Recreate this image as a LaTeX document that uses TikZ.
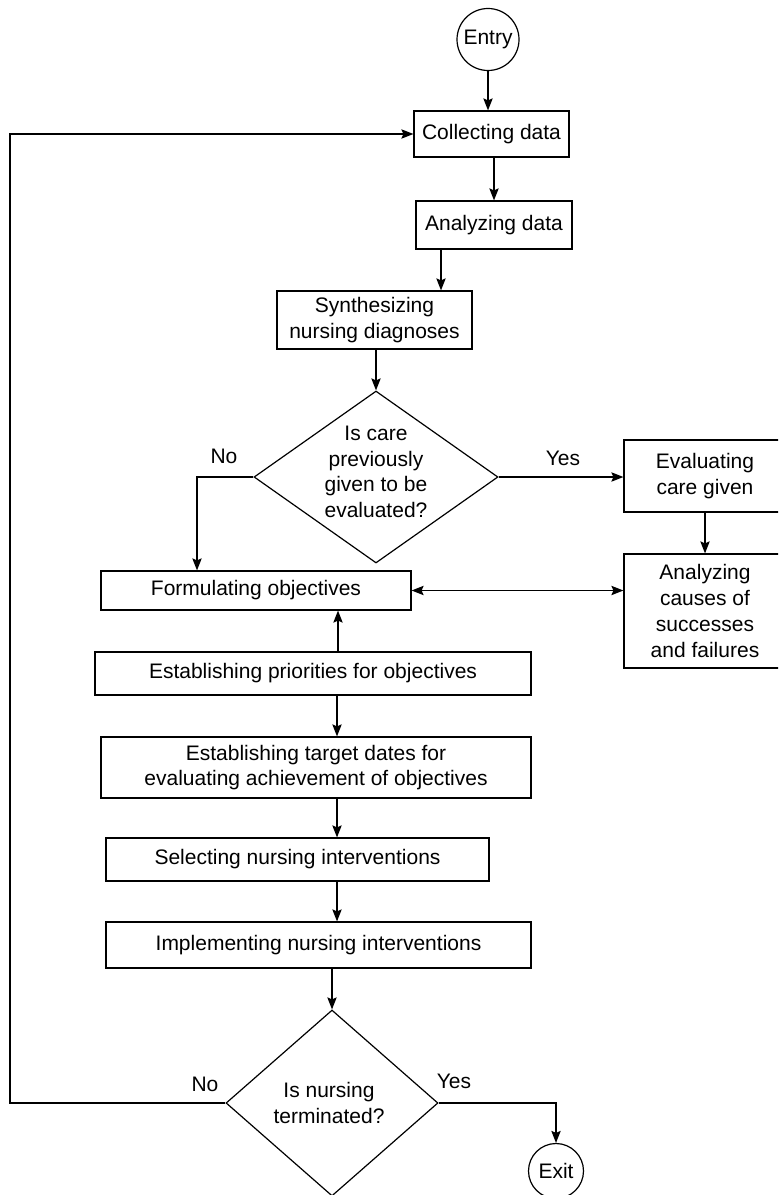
\documentclass[tikz,border=0pt]{standalone}
\usepackage{fontspec}
\setmainfont{Liberation Sans}
\usetikzlibrary{arrows.meta,calc,shapes.geometric}
\tikzset{
  box/.style={draw, line width=0.9pt, rectangle, inner sep=0pt, align=center},
  term/.style={draw, circle, line width=0.9pt, inner sep=0pt},
  decision/.style={draw, diamond, line width=0.9pt, inner sep=0pt},
  txt/.style={align=center, inner sep=0pt},
  arr/.style={line width=0.9pt, -{Stealth[length=9pt,width=7pt,inset=1.5pt]}},
  arrtwo/.style={line width=0.9pt, {Stealth[length=9pt,width=7pt,inset=1.5pt]}-{Stealth[length=9pt,width=7pt,inset=1.5pt]}}
}
\begin{document}
\begin{tikzpicture}[x=0.75pt,y=-0.75pt,
  every node/.style={font=\fontsize{15.75}{19.3}\selectfont, text=black}]
\clip (0,0) rectangle (778,1195);
\fill[white] (0,0) rectangle (778,1195);

\node[term, minimum size=46.5pt] (entry) at (488,39.5) {Entry};
\node[box, minimum width=116.25pt, minimum height=34.5pt] (collect) at (491.5,134) {Collecting data};
\node[box, minimum width=117pt, minimum height=36pt] (analyze) at (494,225) {Analyzing data};
\node[box, minimum width=146.25pt, minimum height=43.5pt] (synth) at (374.5,320) {Synthesizing\\nursing diagnoses};
\node[decision, minimum width=183pt, minimum height=129pt] (d1) at (376,477) {};
\node[txt] (d1t) at (376,472) {Is care\\previously\\given to be\\evaluated?};
\node[box, minimum width=121.5pt, minimum height=54pt] (eval) at (705,476) {Evaluating\\care given};
\node[box, minimum width=121.5pt, minimum height=85.5pt] (causes) at (705,611) {Analyzing\\causes of\\successes\\and failures};
\node[box, minimum width=232.5pt, minimum height=29.25pt] (form) at (256,590.5) {Formulating objectives};
\node[box, minimum width=327pt, minimum height=32.25pt] (prio) at (313,673.5) {Establishing priorities for objectives};
\node[box, minimum width=322.5pt, minimum height=45.75pt] (target) at (316,767.5) {Establishing target dates for\\evaluating achievement of objectives};
\node[box, minimum width=287.25pt, minimum height=32.25pt] (select) at (297.5,859.5) {Selecting nursing interventions};
\node[box, minimum width=318.75pt, minimum height=34.5pt] (impl) at (318.5,945) {Implementing nursing interventions};
\node[decision, minimum width=159pt, minimum height=139.5pt] (d2) at (332,1103) {};
\node[txt] (d2t) at (329,1103) {Is nursing\\terminated?};
\node[term, minimum size=41.25pt] (exit) at (556,1171) {Exit};

\node[txt] (no1) at (224,456) {No};
\node[txt] (yes1) at (563,458) {Yes};
\node[txt] (no2) at (205,1084) {No};
\node[txt] (yes2) at (454,1081) {Yes};

\draw[arr] (entry.south) -- (entry.south |- collect.north);
\draw[arr] (analyze.north |- collect.south) -- (analyze.north);
\coordinate (a1) at ($(analyze.south)+(-53,0)$);
\draw[arr] (a1) -- (a1 |- synth.north);
\draw[arr] (synth.south -| d1.north) -- (d1.north);
\coordinate (f1) at ($(form.north)+(-59,0)$);
\draw[arr] (d1.west) -| (f1);
\draw[arr] (d1.east) -- (d1.east -| eval.west);
\draw[arr] (eval.south) -- (causes.north);
\draw[arrtwo] (form.east) -- (form.east -| causes.west);
\coordinate (p1) at ($(prio.north)+(25,0)$);
\draw[arr] (p1) -- (p1 |- form.south);
\coordinate (p2) at ($(prio.south)+(24,0)$);
\draw[arr] (p2) -- (p2 |- target.north);
\coordinate (p3) at ($(target.south)+(21,0)$);
\draw[arr] (p3) -- (p3 |- select.north);
\coordinate (p4) at ($(select.south)+(39.5,0)$);
\draw[arr] (p4) -- (p4 |- impl.north);
\draw[arr] (impl.south -| d2.north) -- (d2.north);
\coordinate (lp) at (10,0);
\draw[arr] (d2.west) -- (d2.west -| lp) -- (lp |- collect.west) -- (collect.west);
\draw[arr] (d2.east) -| (exit.north);
\end{tikzpicture}
\end{document}
